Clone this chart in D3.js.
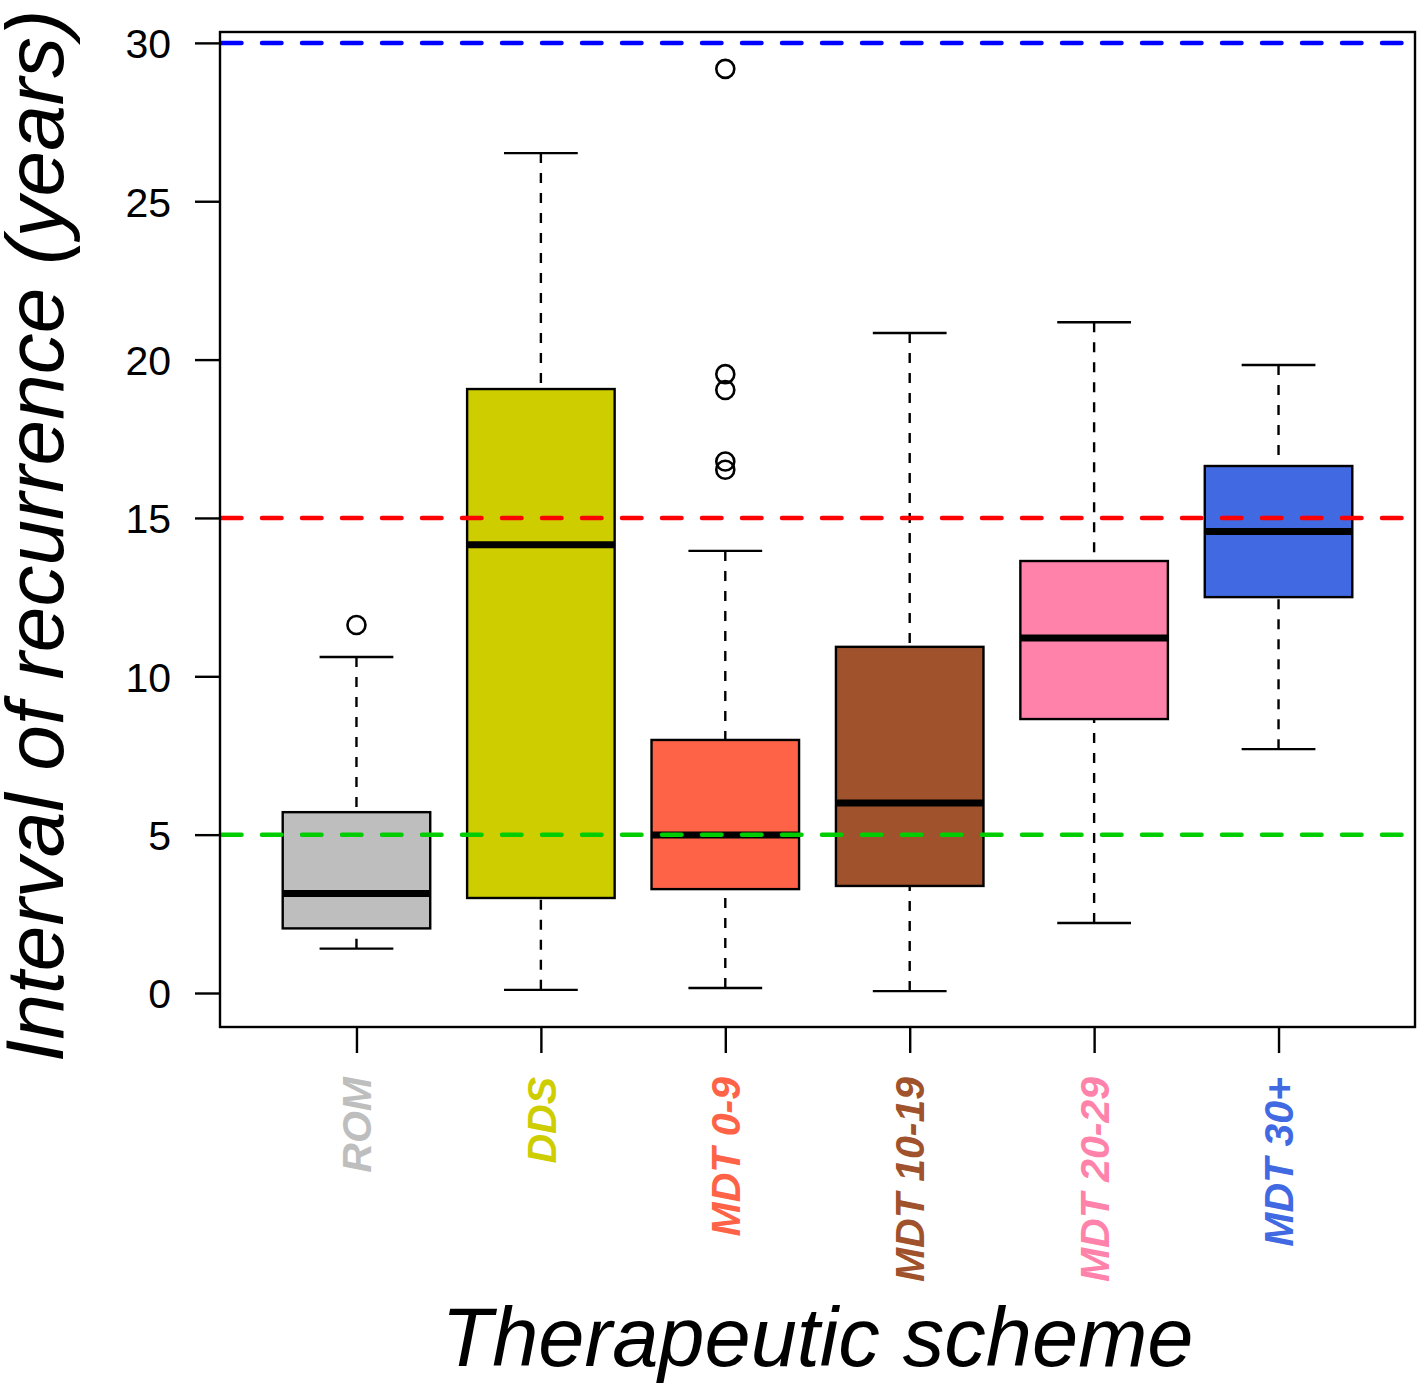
<!DOCTYPE html>
<html>
<head>
<meta charset="utf-8">
<script src="https://cdn.jsdelivr.net/npm/d3@7"></script>
<style>
  html, body { margin: 0; padding: 0; background: #fff; }
  svg { display: block; }
  text { font-family: "Liberation Sans", Arial, Helvetica, sans-serif; }
</style>
</head>
<body>
<script>
// ---- data ----
const categories = ["ROM", "DDS", "MDT 0-9", "MDT 10-19", "MDT 20-29", "MDT 30+"];
const lowerWhisker = [1.40, 0.10, 0.16, 0.06, 2.21, 7.70];
const q1Values = [2.04, 3.00, 3.28, 3.38, 8.65, 12.50];
const medianValues = [3.14, 14.15, 4.99, 6.00, 11.21, 14.57];
const q3Values = [5.71, 19.07, 7.99, 10.93, 13.64, 16.64];
const upperWhisker = [10.61, 26.52, 13.96, 20.84, 21.18, 19.83];
const outlierValues = [[11.62], [], [16.52, 16.78, 19.04, 19.54, 29.18], [], [], []];
const boxColors = ["#BEBEBE", "#CDCD00", "#FF6347", "#A0522D", "#FF82AB", "#4169E1"];
const yTicks = [0, 5, 10, 15, 20, 25, 30];
const refLineValues = [30, 15, 5];
const refLineColors = ["#0000FF", "#FF0000", "#00CD00"];
const yTitle = "Interval of recurrence (years)";
const xTitle = "Therapeutic scheme";

// ---- layout ----
const W = 1418, H = 1385;
const plot = { left: 220, right: 1415, top: 32, bottom: 1027 };

const svg = d3.select("body").append("svg").attr("width", W).attr("height", H);

const dataMin = 0.09, dataMax = 29.18;
const ext = 0.04 * (dataMax - dataMin);
const y = d3.scaleLinear().domain([dataMin - ext, dataMax + ext]).range([plot.bottom, plot.top]);
const n = categories.length;
const xExt = 0.04 * n;
const x = d3.scaleLinear().domain([0.5 - xExt, n + 0.5 + xExt]).range([plot.left, plot.right]);
const unit = x(1) - x(0);
const boxHalf = 0.4 * unit;
const capHalf = 0.2 * unit;

const g = svg.append("g");

categories.forEach((c, i) => {
  const cx = x(i + 1);
  // whiskers (drawn from cap toward box)
  g.append("line").attr("x1", cx).attr("x2", cx)
    .attr("y1", y(upperWhisker[i])).attr("y2", y(q3Values[i]))
    .attr("stroke", "#000").attr("stroke-width", 2.4).attr("stroke-dasharray", "10,10");
  g.append("line").attr("x1", cx).attr("x2", cx)
    .attr("y1", y(lowerWhisker[i])).attr("y2", y(q1Values[i]))
    .attr("stroke", "#000").attr("stroke-width", 2.4).attr("stroke-dasharray", "10,10");
  // caps
  [upperWhisker[i], lowerWhisker[i]].forEach(v => {
    g.append("line").attr("x1", cx - capHalf).attr("x2", cx + capHalf)
      .attr("y1", y(v)).attr("y2", y(v))
      .attr("stroke", "#000").attr("stroke-width", 2.4);
  });
  // box
  g.append("rect").attr("x", cx - boxHalf).attr("width", 2 * boxHalf)
    .attr("y", y(q3Values[i])).attr("height", y(q1Values[i]) - y(q3Values[i]))
    .attr("fill", boxColors[i]).attr("stroke", "#000").attr("stroke-width", 2.4);
  // median
  g.append("line").attr("x1", cx - boxHalf).attr("x2", cx + boxHalf)
    .attr("y1", y(medianValues[i])).attr("y2", y(medianValues[i]))
    .attr("stroke", "#000").attr("stroke-width", 7);
  // outliers
  outlierValues[i].forEach(v => {
    g.append("circle").attr("cx", cx).attr("cy", y(v)).attr("r", 9)
      .attr("fill", "none").attr("stroke", "#000").attr("stroke-width", 2.6);
  });
});

// reference lines
svg.append("defs").append("clipPath").attr("id", "pclip").append("rect")
  .attr("x", plot.left).attr("y", plot.top)
  .attr("width", plot.right - plot.left).attr("height", plot.bottom - plot.top);
refLineValues.forEach((v, k) => {
  svg.append("line").attr("clip-path", "url(#pclip)")
    .attr("x1", plot.left + 2).attr("x2", plot.right)
    .attr("y1", y(v)).attr("y2", y(v))
    .attr("stroke", refLineColors[k]).attr("stroke-width", 4.5)
    .attr("stroke-linecap", "round").attr("stroke-dasharray", "19.5,20.5");
});

// plot frame
svg.append("rect").attr("x", plot.left).attr("y", plot.top)
  .attr("width", plot.right - plot.left).attr("height", plot.bottom - plot.top)
  .attr("fill", "none").attr("stroke", "#000").attr("stroke-width", 2.4);

// y axis
const yAxis = d3.axisLeft(y).tickValues(yTicks).tickSize(25).tickPadding(24).tickFormat(d3.format("d"));
const ya = svg.append("g").attr("transform", `translate(${plot.left},0)`).call(yAxis);
ya.select(".domain").remove();
ya.selectAll(".tick line").attr("stroke", "#000").attr("stroke-width", 2.4);
ya.selectAll(".tick text").attr("font-size", 41).attr("fill", "#000")
  .attr("font-family", "'Liberation Sans', Arial, sans-serif").attr("dy", "0.36em");

// x axis
const xAxis = d3.axisBottom(x).tickValues(d3.range(1, n + 1)).tickSize(26).tickFormat("");
const xa = svg.append("g").attr("transform", `translate(0,${plot.bottom})`).call(xAxis);
xa.select(".domain").remove();
xa.selectAll(".tick line").attr("stroke", "#000").attr("stroke-width", 2.4);

// x category labels (rotated, bold italic, colored)
categories.forEach((c, i) => {
  svg.append("text")
    .attr("transform", `translate(${x(i + 1)},1077) rotate(-90)`)
    .attr("text-anchor", "end").attr("dy", "0.36em")
    .attr("font-size", 41).attr("font-weight", "bold").attr("font-style", "italic")
    .attr("fill", boxColors[i]).text(c);
});

// titles
svg.append("text")
  .attr("transform", `translate(63,536) rotate(-90)`)
  .attr("text-anchor", "middle").attr("font-size", 82).attr("font-style", "italic")
  .attr("fill", "#000").text(yTitle);
svg.append("text")
  .attr("x", (plot.left + plot.right) / 2).attr("y", 1366)
  .attr("text-anchor", "middle").attr("font-size", 83).attr("font-style", "italic")
  .attr("fill", "#000").text(xTitle);
</script>
</body>
</html>
